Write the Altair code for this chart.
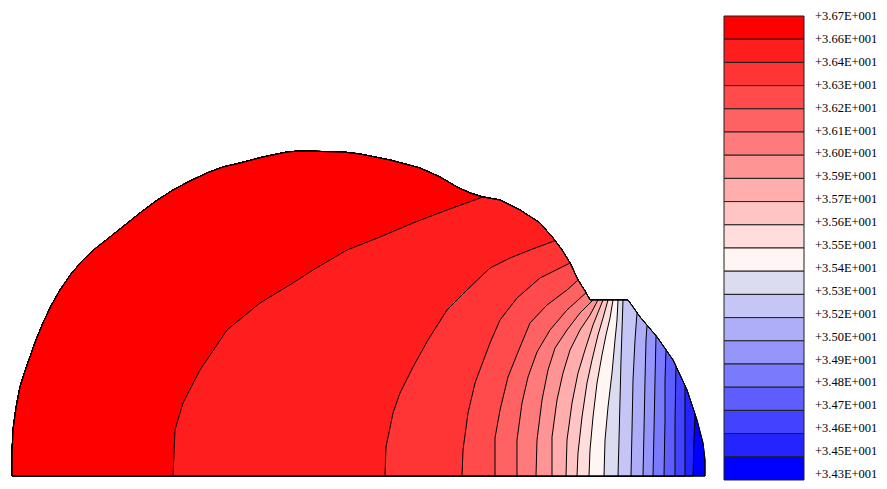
import altair as alt
import numpy as np
import pandas as pd

# ---------------- data (grid units, baseline at y=0) ----------------
# outer boundary of the bead section, left foot -> right foot
bound_x = [0, 0, 1, 4, 8, 13, 18, 24, 31, 39, 48, 59, 71, 84, 98, 113, 128, 144, 161, 178,
           195, 211, 228, 251, 275, 288, 331, 348, 378, 408, 428, 445, 458, 471, 488, 508,
           528, 541, 550, 558, 566, 573, 578, 616, 628, 645, 661, 675, 685, 691, 693, 693]
bound_y = [0, 21, 46, 68, 89, 105, 119, 136, 153, 170, 186, 202, 216, 228, 239, 251, 263, 275, 286, 295,
           303, 309, 313, 319, 324, 325, 324, 322, 316, 308, 299, 289, 283, 279, 276, 266,
           253, 238, 226, 213, 196, 185, 176, 176, 159, 139, 116, 86, 56, 33, 16, 0]

# iso-lines, each from the baseline up to the outer boundary (left to right)
contour_x = [
    [161, 163, 171, 188, 215, 248, 281, 301, 335, 368, 401, 435, 471],
    [373, 374, 381, 388, 401, 416, 435, 455, 478, 498, 518, 543],
    [450, 451, 456, 463, 478, 488, 505, 528, 558],
    [483, 483, 488, 496, 506, 518, 535, 555, 566],
    [505, 505, 510, 516, 525, 538, 555, 574],
    [524, 525, 530, 536, 543, 555, 568, 581],
    [540, 540, 545, 551, 558, 568, 578, 586],
    [554, 555, 560, 566, 573, 581, 591],
    [565, 566, 570, 575, 580, 586, 591, 596],
    [577, 578, 581, 585, 590, 594, 598, 601],
    [592, 593, 596, 600, 603, 605, 606],
    [606, 607, 608, 609, 610, 611],
    [619, 620, 621, 623, 625],
    [631, 632, 633, 634, 635],
    [641, 642, 643, 644],
    [652, 653, 653, 654],
    [663, 663, 664],
    [673, 673, 673],
    [681, 682, 683],
]
contour_y = [
    [0, 46, 73, 106, 146, 173, 193, 206, 226, 239, 253, 266, 279],
    [0, 29, 63, 83, 109, 136, 166, 186, 208, 218, 226, 237],
    [0, 26, 63, 93, 133, 156, 178, 198, 213],
    [0, 38, 66, 99, 124, 153, 171, 186, 196],
    [0, 36, 73, 99, 124, 146, 166, 184],
    [0, 36, 76, 106, 128, 146, 163, 176],
    [0, 39, 76, 103, 126, 146, 161, 176],
    [0, 36, 73, 103, 126, 151, 176],
    [0, 23, 59, 93, 116, 141, 158, 176],
    [0, 26, 59, 93, 121, 141, 158, 176],
    [0, 36, 69, 103, 136, 156, 176],
    [0, 36, 76, 116, 146, 176],
    [0, 46, 96, 136, 163],
    [0, 46, 96, 136, 151],
    [0, 46, 96, 140],
    [0, 56, 96, 126],
    [0, 56, 110],
    [0, 46, 90],
    [0, 36, 62],
]

# band colours, hottest (top of legend / left of section) first
band_colors = ["#ff0000", "#ff1e1e", "#ff3535", "#ff4b4b", "#ff6262", "#ff7b7b", "#ff9494",
               "#ffadad", "#ffc5c5", "#ffdddd", "#fff5f2", "#dcdcf1", "#c6c6f6", "#aeaef8",
               "#9696fa", "#7a7afc", "#5e5efe", "#4242ff", "#2424ff", "#0000ff"]
legend_labels = ["+3.67E+001", "+3.66E+001", "+3.64E+001", "+3.63E+001", "+3.62E+001", "+3.61E+001",
                 "+3.60E+001", "+3.59E+001", "+3.57E+001", "+3.56E+001", "+3.55E+001", "+3.54E+001",
                 "+3.53E+001", "+3.52E+001", "+3.50E+001", "+3.49E+001", "+3.48E+001", "+3.47E+001",
                 "+3.46E+001", "+3.45E+001", "+3.43E+001"]

# ---------------- build polygons ----------------
bx = np.array(bound_x, float)
by = np.array(bound_y, float)


def feature(ring, fill, stroke):
    return {"type": "Feature",
            "geometry": {"type": "Polygon", "coordinates": [ring]},
            "properties": {"fill": fill, "stroke": stroke}}


boundary_ring = [[float(x), float(y)] for x, y in zip(bx, by)] + [[0.0, 0.0]]

features = []
# invisible frame that fixes the extent of the drawing area
features.append(feature([[-4, -5], [867, -5], [867, 468], [-4, 468], [-4, -5]],
                        "transparent", "transparent"))
# whole section in the coolest colour
features.append(feature(boundary_ring, band_colors[-1], "black"))
# region left of each iso-line, painted from right to left
for k in range(len(contour_x) - 1, -1, -1):
    cx = list(map(float, contour_x[k]))
    cy = list(map(float, contour_y[k]))
    ex = cx[-1]
    ey = float(np.interp(ex, bx, by))
    ring = [[float(x), float(y)] for x, y in zip(bx, by) if x < ex]
    ring.append([ex, ey])
    for x, y in zip(cx[-2::-1], cy[-2::-1]):
        ring.append([x, y])
    ring.append([0.0, 0.0])
    features.append(feature(ring, band_colors[k], "black"))
# outline on top
features.append(feature(boundary_ring, "transparent", "black"))

section = alt.Chart(alt.Data(values=features)).mark_geoshape(strokeWidth=1).encode(
    fill=alt.Fill("properties.fill:N", scale=None),
    stroke=alt.Stroke("properties.stroke:N", scale=None),
).project(type="identity", reflectY=True)

leg_df = pd.DataFrame({"top": list(range(20)), "bottom": list(range(1, 21)), "color": band_colors})
lab_df = pd.DataFrame({"pos": list(range(21)), "label": legend_labels})

rects = alt.Chart(leg_df).mark_rect(stroke="#202020", strokeWidth=1).encode(
    x=alt.value(716), x2=alt.value(796),
    y=alt.Y("top:Q", scale=alt.Scale(domain=[0, 20], range=[8, 472]), axis=None),
    y2="bottom:Q",
    fill=alt.Fill("color:N", scale=None),
)

texts = alt.Chart(lab_df).mark_text(align="left", baseline="middle", font="Liberation Serif",
                                    fontSize=12.5, color="black").encode(
    x=alt.value(807),
    y=alt.Y("pos:Q", scale=alt.Scale(domain=[0, 20], range=[8, 466]), axis=None),
    text="label:N",
)

chart = alt.layer(section, rects, texts).resolve_scale(y="independent").properties(
    width=871, height=473, autosize=alt.AutoSizeParams(type="none"), padding=0,
    background="white",
).configure_view(stroke=None)

chart.save("out.html", embed_options={"renderer": "svg", "actions": False})
